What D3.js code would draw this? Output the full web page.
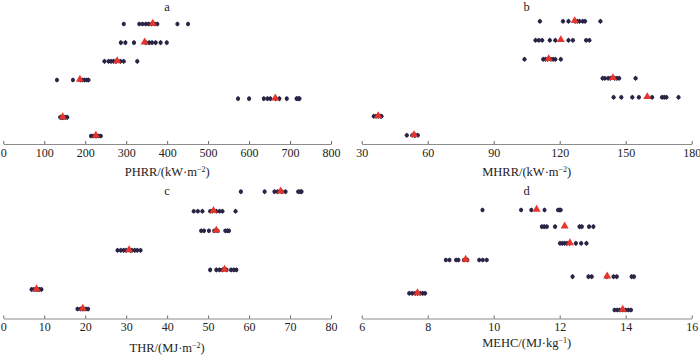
<!DOCTYPE html>
<html>
<head>
<meta charset="utf-8">
<script src="https://cdn.jsdelivr.net/npm/d3@7"></script>
<style>
  body { margin: 0; background: #fff; }
  text { font-family: "Liberation Serif", "Times New Roman", serif; }
</style>
</head>
<body>
<div id="chart"></div>
<script>
// seven samples, listed from top row to bottom row
const samples = ["S1", "S2", "S3", "S4", "S5", "S6", "S7"];

// a: peak heat release rate
const phrrValues = [
  [294, 332, 340, 348, 355, 362, 370, 376, 425, 451],
  [287, 298, 319, 348, 356, 363, 372, 384, 399],
  [247, 257, 263, 269, 275, 286, 294, 327],
  [131, 170, 188, 194, 199, 204, 208],
  [573, 600, 636, 645, 652, 665, 674, 692, 716, 720, 723],
  [139, 142, 145, 148, 152, 156],
  [214, 219, 224, 228, 233, 238]
];
const phrrMeans = [365, 345, 278, 187, 664, 145, 226];
const phrrTicks = [0, 100, 200, 300, 400, 500, 600, 700, 800];

// b: mean heat release rate
const mhrrValues = [
  [111, 121.5, 124, 127, 128, 129, 130.5, 131.5, 138.5],
  [109, 110.5, 112, 115.5, 118, 124, 126, 132, 133.5],
  [104, 112.5, 113.5, 114.5, 116, 117, 118, 120.5],
  [139.5, 140.5, 142, 143, 145, 146, 147, 154.5],
  [144.5, 148, 153, 156, 162, 166.5, 167.5, 168.5, 174],
  [35.5, 36.5, 37.5, 38.5, 39],
  [50.5, 53, 54, 54.5, 55.5]
];
const mhrrMeans = [126.8, 120.5, 115, 144.2, 159.8, 37.5, 53.8];
const mhrrTicks = [30, 60, 90, 120, 150, 180];

// c: total heat release
const thrValues = [
  [58, 63.8, 66.2, 67, 68, 68.9, 72, 72.5, 72.8],
  [46.5, 47.5, 48.6, 50.5, 51, 52, 52.8, 53.5, 56.7],
  [48.3, 49, 50.2, 51.5, 52.3, 54.2, 54.7, 55.1],
  [27.9, 28.7, 29.4, 30, 31, 31.4, 32.1, 32.7, 33.5],
  [50.5, 52, 52.8, 53.5, 54.5, 55.6, 56.3, 56.9],
  [6.9, 7.5, 8, 8.4, 8.8, 9.3],
  [18.1, 18.8, 19.3, 19.7, 20.2, 20.7]
];
const thrMeans = [67.7, 51.3, 52, 30.7, 54, 8.1, 19.4];
const thrTicks = [0, 10, 20, 30, 40, 50, 60, 70, 80];

// d: mean effective heat of combustion
const mehcValues = [
  [9.66, 10.83, 11.14, 11.54, 11.95, 11.99, 12.03],
  [11.46, 11.53, 11.61, 11.86, 12.6, 12.67, 12.89, 13.02],
  [12.01, 12.08, 12.15, 12.22, 12.3, 12.49, 12.65, 12.81],
  [8.55, 8.66, 8.86, 8.93, 9.1, 9.2, 9.56, 9.67, 9.79],
  [12.39, 12.87, 12.97, 13.42, 13.63, 13.73, 14.18, 14.25],
  [7.44, 7.53, 7.62, 7.69, 7.77, 7.85, 7.92],
  [13.66, 13.74, 13.82, 13.91, 14.0, 14.08, 14.16]
];
const mehcMeans = [11.3, 12.15, 12.31, 9.15, 13.44, 7.69, 13.91];
const mehcTicks = [6, 8, 10, 12, 14, 16];

const width = 700, height = 355;
const dotColor = "#2c2446", meanColor = "#e8342b", axisColor = "#8c8c8c";

const svg = d3.select("#chart")
  .append("svg")
  .attr("width", width)
  .attr("height", height);

// one entry per panel, layout in pixels
const panels = [
  { title: "a", values: phrrValues, means: phrrMeans, ticks: phrrTicks, domain: [0, 800],
    label: ["PHRR/(kW·m", "−2", ")"], x: [3.3, 331], axisY: 144, rowY: [24, 136], titleY: 11, labelY: 176 },
  { title: "b", values: mhrrValues, means: mhrrMeans, ticks: mhrrTicks, domain: [30, 180],
    label: ["MHRR/(kW·m", "−2", ")"], x: [361.7, 691.7], axisY: 144, rowY: [21.3, 135.3], titleY: 11, labelY: 176 },
  { title: "c", values: thrValues, means: thrMeans, ticks: thrTicks, domain: [0, 80],
    label: ["THR/(MJ·m", "−2", ")"], x: [3.3, 331], axisY: 318.5, rowY: [191.7, 309], titleY: 195, labelY: 352 },
  { title: "d", values: mehcValues, means: mehcMeans, ticks: mehcTicks, domain: [6, 16],
    label: ["MEHC/(MJ·kg", "−1", ")"], x: [361.7, 691.7], axisY: 318.5, rowY: [210, 310], titleY: 195, labelY: 347 }
];

panels.forEach(p => {
  const x = d3.scaleLinear().domain(p.domain).range(p.x);
  const y = d3.scalePoint().domain(samples).range(p.rowY);
  const g = svg.append("g");

  // x axis with small inward ticks
  const axis = g.append("g")
    .attr("transform", `translate(0,${p.axisY})`)
    .call(d3.axisBottom(x).tickValues(p.ticks).tickSizeInner(-3).tickSizeOuter(0).tickPadding(4));
  axis.select(".domain").attr("stroke", axisColor).attr("stroke-width", 1.2);
  axis.selectAll(".tick line").attr("stroke", "#666").attr("stroke-width", 1);
  axis.selectAll(".tick text")
    .attr("fill", "#222")
    .style("font-family", "Liberation Serif, serif")
    .style("font-size", "12px");

  // axis title with superscript exponent
  const lab = g.append("text")
    .attr("x", (p.x[0] + p.x[1]) / 2)
    .attr("y", p.labelY)
    .attr("text-anchor", "middle")
    .attr("fill", "#222")
    .style("font-size", "12.5px");
  lab.append("tspan").text(p.label[0]);
  lab.append("tspan").attr("dy", -4).style("font-size", "8px").text(p.label[1]);
  lab.append("tspan").attr("dy", 4).text(p.label[2]);

  // panel letter
  g.append("text")
    .attr("x", (p.x[0] + p.x[1]) / 2)
    .attr("y", p.titleY)
    .attr("text-anchor", "middle")
    .attr("fill", "#222")
    .style("font-size", "12.5px")
    .text(p.title);

  // individual measurements
  const pts = [];
  p.values.forEach((vals, i) => vals.forEach(v => pts.push({ s: samples[i], v })));
  g.selectAll(".dot")
    .data(pts)
    .join("path")
    .attr("class", "dot")
    .attr("transform", d => `translate(${x(d.v)},${y(d.s)})`)
    .attr("d", d3.symbol(d3.symbolDiamond, 9))
    .attr("fill", dotColor);
  g.selectAll(".dot2")
    .data(pts)
    .join("circle")
    .attr("cx", d => x(d.v))
    .attr("cy", d => y(d.s))
    .attr("r", 2.1)
    .attr("fill", dotColor);

  // means
  g.selectAll(".mean")
    .data(p.means)
    .join("path")
    .attr("class", "mean")
    .attr("transform", (d, i) => `translate(${x(d)},${y(samples[i]) - 0.5})`)
    .attr("d", d3.symbol(d3.symbolTriangle, 28))
    .attr("fill", meanColor);
});
</script>
</body>
</html>
